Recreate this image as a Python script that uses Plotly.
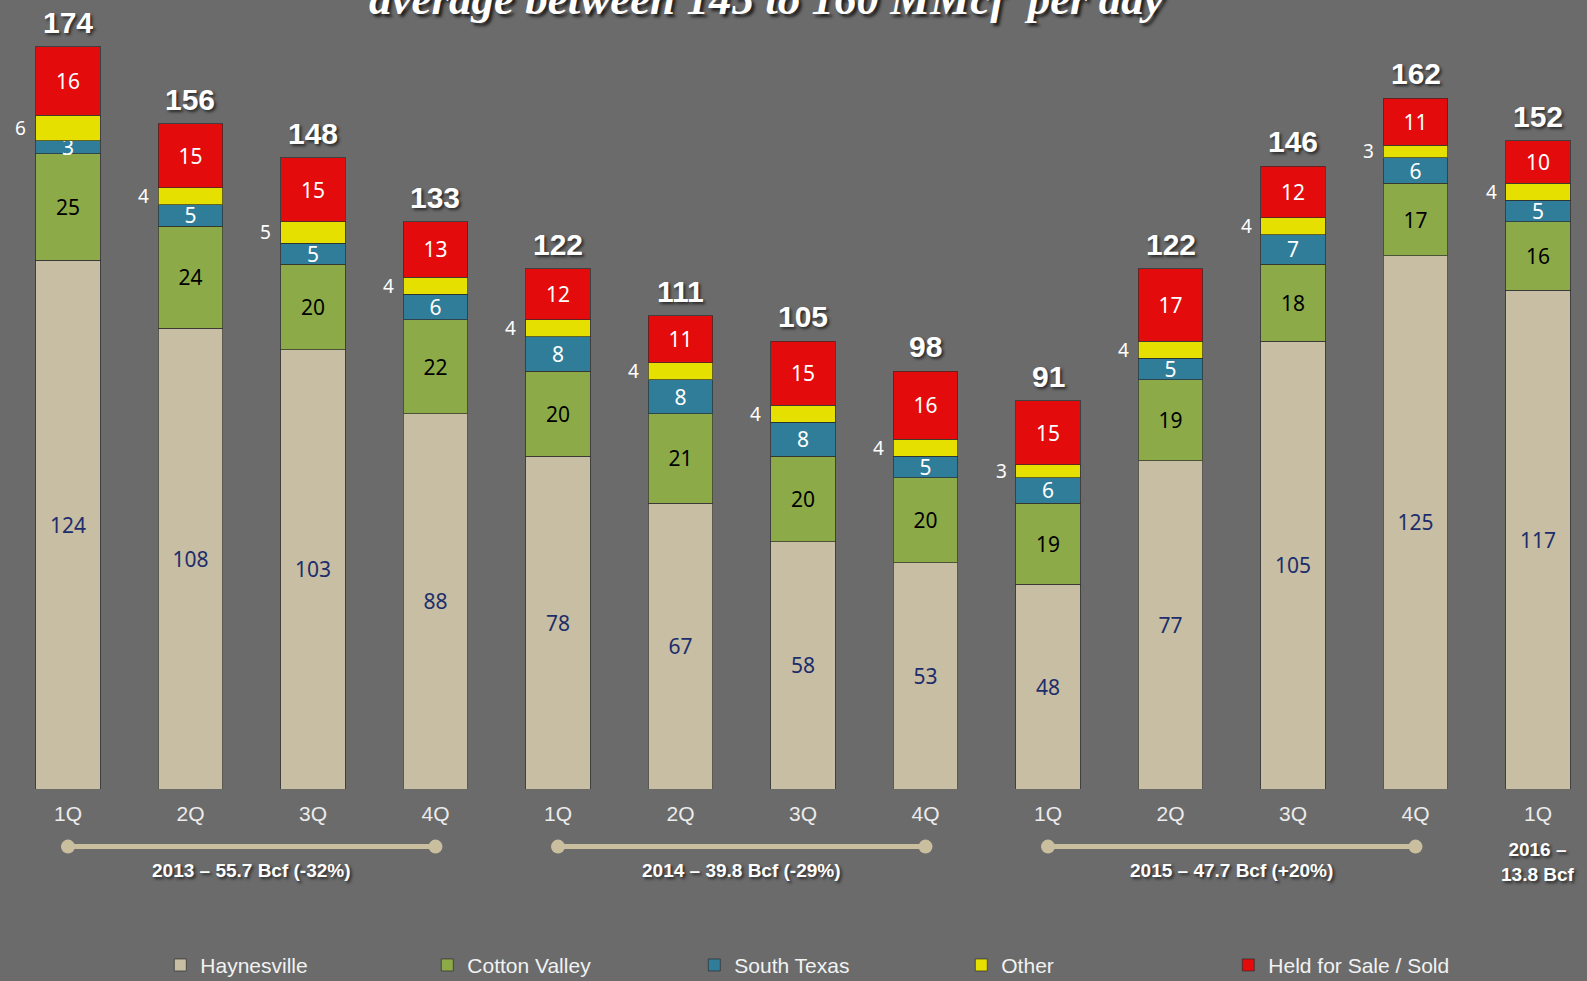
import plotly.graph_objects as go

quarters = ["1Q", "2Q", "3Q", "4Q", "1Q", "2Q", "3Q", "4Q", "1Q", "2Q", "3Q", "4Q", "1Q"]
haynesville = [124, 108, 103, 88, 78, 67, 58, 53, 48, 77, 105, 125, 117]
cotton_valley = [25, 24, 20, 22, 20, 21, 20, 20, 19, 19, 18, 17, 16]
south_texas = [3, 5, 5, 6, 8, 8, 8, 5, 6, 5, 7, 6, 5]
other = [6, 4, 5, 4, 4, 4, 4, 4, 3, 4, 4, 3, 4]
held_for_sale = [16, 15, 15, 13, 12, 11, 15, 16, 15, 17, 12, 11, 10]
totals = [174, 156, 148, 133, 122, 111, 105, 98, 91, 122, 146, 162, 152]

year_first = [0, 4, 8]
year_last = [3, 7, 11]
year_labels = ["2013 – 55.7 Bcf (-32%)", "2014 – 39.8 Bcf (-29%)", "2015 – 47.7 Bcf (+20%)"]
last_year_label = "2016 –<br>13.8 Bcf"

title_text = "average between 145 to 160 MMcf  per day"

BG = "#6b6b6b"
SANS = "Liberation Sans, Arial, sans-serif"
NUM = "Noto Sans, DejaVu Sans, sans-serif"
SHADOW = "2px 2px 3px #2a2a2a"

x = list(range(len(quarters)))

series = [
    ("Haynesville", haynesville, "#c8bea3", "#1c2d6b"),
    ("Cotton Valley", cotton_valley, "#8cab48", "#000000"),
    ("South Texas", south_texas, "#2f7d98", "#ffffff"),
    ("Other", other, "#e6e000", None),
    ("Held for Sale / Sold", held_for_sale, "#e30b0b", "#ffffff"),
]

fig = go.Figure()
for name, vals, color, tcolor in series:
    fig.add_trace(go.Bar(
        name=name, x=x, y=vals, width=0.53,
        marker=dict(color=color, line=dict(color="rgba(45,45,45,0.7)", width=1)),
        text=[str(v) for v in vals] if tcolor else None,
        textposition="inside" if tcolor else "none",
        insidetextanchor="middle",
        constraintext="none",
        textangle=0,
        textfont=dict(family=NUM, size=21, color=tcolor or "#fff"),
        cliponaxis=False,
        hoverinfo="skip",
    ))

annotations = []
# totals on top of each stack
for i, t in enumerate(totals):
    annotations.append(dict(
        x=i, y=t, xref="x", yref="y", text=f"<b>{t}</b>", showarrow=False,
        yanchor="bottom", yshift=6,
        font=dict(family=SANS, size=30, color="#ffffff", shadow=SHADOW),
    ))
# "Other" values sit beside the bar
for i in x:
    mid = haynesville[i] + cotton_valley[i] + south_texas[i] + other[i] / 2
    annotations.append(dict(
        x=i, y=mid, xref="x", yref="y", text=str(other[i]), showarrow=False,
        xshift=-47, font=dict(family=NUM, size=19, color="#ffffff"),
    ))

shapes = []
line_col = "#c9bf9f"
for a, b, lab in zip(year_first, year_last, year_labels):
    shapes.append(dict(type="line", xref="x", yref="paper", x0=a, x1=b, y0=-0.073, y1=-0.073,
                       line=dict(color=line_col, width=5)))
    for xe in (a, b):
        shapes.append(dict(type="circle", xref="x", yref="paper", xsizemode="pixel", ysizemode="pixel",
                           xanchor=xe, yanchor=-0.073, x0=-7, x1=7, y0=-7, y1=7,
                           fillcolor=line_col, line=dict(width=0)))
    annotations.append(dict(
        x=(a + b) / 2, y=-0.103, xref="x", yref="paper", yanchor="middle",
        text=f"<b>{lab}</b>", showarrow=False,
        font=dict(family=SANS, size=19, color="#ffffff", shadow=SHADOW),
    ))
annotations.append(dict(
    x=12, y=-0.0925, xref="x", yref="paper", yanchor="middle",
    text=f"<b>{last_year_label}</b>", showarrow=False,
    font=dict(family=SANS, size=19, color="#ffffff", shadow=SHADOW),
))
annotations.append(dict(
    x=0.483, y=1.0, xref="paper", yref="paper", yanchor="middle", yshift=1,
    text=f"<b><i>{title_text}</i></b>",
    showarrow=False, font=dict(family="Liberation Serif, Times New Roman, serif", size=45, color="#ffffff",
                               shadow="3px 3px 3px #222"),
))

fig.update_layout(
    width=1587, height=981,
    paper_bgcolor=BG, plot_bgcolor=BG,
    barmode="stack", bargap=0.47,
    margin=dict(l=0, r=0, t=0, b=192, autoexpand=False),
    showlegend=True,
    legend=dict(orientation="h", x=0.101, y=0.016, xref="container", yref="container",
                xanchor="left", yanchor="middle",
                entrywidth=222, entrywidthmode="pixels", traceorder="normal",
                font=dict(family=SANS, size=21, color="#f2f2f2"), bgcolor="rgba(0,0,0,0)"),
    xaxis=dict(range=[-0.555, 12.4], tickmode="array", tickvals=x, ticktext=quarters,
               showgrid=False, zeroline=False, showline=False, ticks="", ticklabelstandoff=10,
               tickfont=dict(family=SANS, size=21, color="#ececec")),
    yaxis=dict(range=[0, 185], visible=False, showgrid=False),
    annotations=annotations,
    shapes=shapes,
)

fig.write_html("out.html", config={"displayModeBar": False},
               post_script="document.body.style.margin='0';")
